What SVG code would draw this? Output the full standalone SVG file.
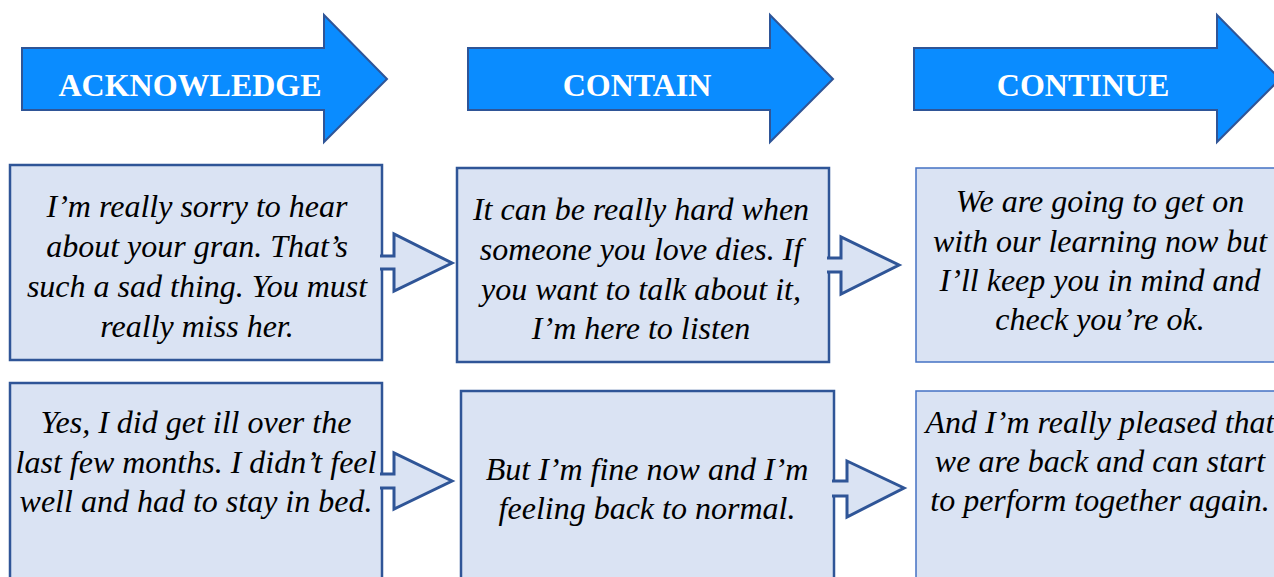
<svg xmlns="http://www.w3.org/2000/svg" width="1274" height="577" viewBox="0 0 1274 577">
<style>
.hdr{fill:#0A8CFF;stroke:#2F5597;stroke-width:2;stroke-linejoin:miter}
.hdrt{font-family:"Liberation Serif","Times New Roman",serif;font-weight:bold;font-size:32px;fill:#FFFFFF;text-anchor:middle}
.box{fill:#DAE3F3;stroke:#2F5597;stroke-width:2.5}
.box2{fill:#DAE3F3;stroke:#4472C4;stroke-width:1.5}
.bt{font-family:"Liberation Serif","Times New Roman",serif;font-style:italic;font-size:32px;fill:#000000;text-anchor:middle}
.sa{fill:#DAE3F3;stroke:#2F5597;stroke-width:3;stroke-linejoin:miter}
</style>
<rect width="1274" height="577" fill="#FFFFFF"/>
<g id="hdr-acknowledge">
<polygon class="hdr" points="22,48 324,48 324,15 387,79 324,142 324,110 22,110"/>
<text class="hdrt" x="190" y="96">ACKNOWLEDGE</text>
</g>
<g id="hdr-contain">
<polygon class="hdr" points="468,48 770,48 770,15 833,79 770,142 770,110 468,110"/>
<text class="hdrt" x="637" y="96">CONTAIN</text>
</g>
<g id="hdr-continue">
<polygon class="hdr" points="914,48 1217,48 1217,15 1280,79 1217,142 1217,110 914,110"/>
<text class="hdrt" x="1083" y="96">CONTINUE</text>
</g>
<g id="box1">
<rect class="box" x="10" y="165" width="372" height="195"/>
<text class="bt"><tspan x="197" y="217">I’m really sorry to hear</tspan><tspan x="197" y="257">about your gran. That’s</tspan><tspan x="197" y="297">such a sad thing. You must</tspan><tspan x="197" y="337">really miss her.</tspan></text>
</g>
<g id="box2">
<rect class="box" x="457" y="168" width="372" height="194"/>
<text class="bt"><tspan x="641" y="220">It can be really hard when</tspan><tspan x="641" y="260">someone you love dies. If</tspan><tspan x="641" y="300">you want to talk about it,</tspan><tspan x="641" y="339">I’m here to listen</tspan></text>
</g>
<g id="box3">
<rect class="box2" x="916" y="168" width="370" height="194"/>
<text class="bt"><tspan x="1100" y="212">We are going to get on</tspan><tspan x="1100" y="252">with our learning now but</tspan><tspan x="1100" y="291">I’ll keep you in mind and</tspan><tspan x="1100" y="330">check you’re ok.</tspan></text>
</g>
<g id="box4">
<rect class="box" x="10" y="383" width="372" height="210"/>
<text class="bt"><tspan x="196" y="433">Yes, I did get ill over the</tspan><tspan x="196" y="473">last few months. I didn’t feel</tspan><tspan x="196" y="512">well and had to stay in bed.</tspan></text>
</g>
<g id="box5">
<rect class="box" x="461" y="391" width="373" height="210"/>
<text class="bt"><tspan x="647" y="480">But I’m fine now and I’m</tspan><tspan x="647" y="519">feeling back to normal.</tspan></text>
</g>
<g id="box6">
<rect class="box2" x="916" y="391" width="370" height="210"/>
<text class="bt"><tspan x="1100" y="433">And I’m really pleased that</tspan><tspan x="1100" y="472">we are back and can start</tspan><tspan x="1100" y="511">to perform together again.</tspan></text>
</g>
<g id="connectors">
<path class="sa" d="M380,256 L394,256 L394,234 L452,263 L394,291 L394,269 L380,269"/>
<path class="sa" d="M827,258 L841,258 L841,237 L899,265 L841,294 L841,272 L827,272"/>
<path class="sa" d="M380,474 L394,474 L394,453 L452,481 L394,509 L394,488 L380,488"/>
<path class="sa" d="M832,481 L847,481 L847,461 L904,488 L847,517 L847,496 L832,496"/>
</g>
</svg>
